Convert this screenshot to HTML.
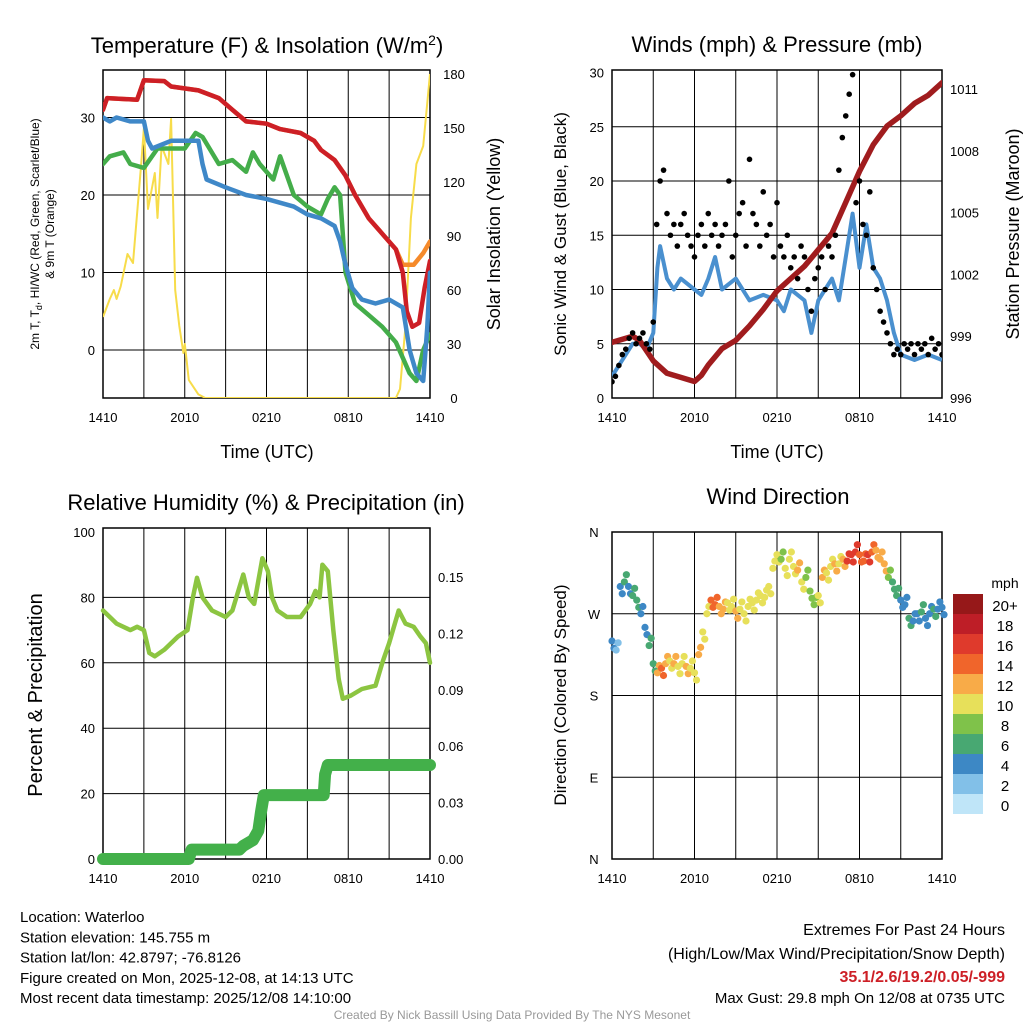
<!DOCTYPE html>
<html><head><meta charset="utf-8">
<style>
html,body{margin:0;padding:0;background:#fff;}
svg{display:block;font-family:"Liberation Sans",sans-serif;}
</style></head>
<body>
<svg id="s" width="1024" height="1024" viewBox="0 0 1024 1024"></svg>
<script>
// ---- Data ----
const xTickLabels=["1410","2010","0210","0810","1410"];
const tempT=[0,0.3,2.5,3.0,4.5,5,7,8.5,9.5,10.5,12,13,14.5,15.5,16,17,17.8,18.5,19.5,20.5,21.5,22,22.3,22.7,23.2,23.6,24];
const tempV=[31,32.5,32.3,34.8,34.7,34,33.5,32.5,31,29.5,29.2,28.5,28,27,25.8,24.5,22.5,20,17,15,13,10,5,3,3.5,8,11.5];
const t9T=[0,0.3,2.5,3.0,4.5,5,7,8.5,9.5,10.5,12,13,14.5,15.5,16,17,17.8,18.5,19.5,20.5,21.5,22,22.8,23.5,24];
const t9V=[31,32.5,32.3,34.8,34.7,34,33.5,32.5,31,29.5,29.2,28.5,28,27,25.8,24.5,22.5,20,17,15,13,11,11,12.5,14];
const wcT=[0,0.5,1,2,3,3.3,3.6,5,7,7.3,7.6,9,10.5,12,14,15,16,17,17.4,17.8,18.3,19,20,21,22,22.5,23,23.5,23.8,24];
const wcV=[30,29.5,30,29.5,29.5,27,26,27,27,24,22,21,20,19.5,18.5,17.5,17,16,14,11,8,6.5,6,6.5,5.5,0,-3,-4,3,10];
const tdT=[0,0.5,1.5,2,3,4,6,6.8,7.3,8.5,9.5,10.5,11,11.5,12.5,13,14,15,16,16.5,17,17.4,17.8,18.5,19.5,20.5,21.5,22,22.5,23,23.5,24];
const tdV=[24,25,25.5,24,23.5,26,26,28,27.5,24,24.5,23,25.5,24,22,25,20,18.5,17.5,19.5,21,20,10,6,4.5,3,1,-1,-3,-4,0,2];
const solT=[0,0.5,0.8,1,1.3,1.8,2.2,2.8,3,3.3,3.8,4,4.3,4.8,5,5.3,5.6,5.9,6,6.3,7,7.5,21.5,21.8,22.2,22.6,23,23.5,24];
const solV=[45,55,60,55,62,80,75,130,150,105,125,100,140,130,155,60,40,25,30,10,2,0,0,5,40,100,130,140,180];
const presT=[0,1.5,2,3,4,5,6,6.5,7,8,9,10,11,12,13,14,15,16,17,18,19,20,21,22,23,24];
const presV=[998.7,999,998.8,997.8,997.2,997,996.8,997.1,997.6,998.4,998.8,999.5,1000.3,1001.2,1001.8,1002.4,1003.2,1004,1005.5,1007,1008.3,1009.2,1009.7,1010.3,1010.7,1011.3];
const windT=[0,0.5,1,1.5,2,2.5,3,3.3,3.5,4,4.5,5,6,6.5,7,7.5,8,9,10,11,12,12.5,13,14,14.5,15,15.5,16,16.5,17,17.5,18,18.5,19,19.5,20,20.5,21,22,23,24];
const windV=[2,3,4,5,5,4.5,6,12,14,11,10,11,10,9.5,11,13,10,11,9,9.5,9,8,10,9,6,9,10,11,9,13,17,12,16,12,11,9,6,4,3.5,4,3.5];
const gustV=[1.5,2,3,4,4.5,5.5,6,5,5.5,6,5,4.5,7,16,20,21,17,15,16,14,16,17,15,14,13,15,16,14,17,15,16,14,15,16,20,13,15,17,18,14,22,17,16,14,19,15,16,13,18,14,13,15,12,13,11,14,13,10,8,11,12,13,10,14,13,15,21,24,26,28,29.8,18,20,16,15,19,12,10,8,7,6,5,4,4.5,4,5,4.5,5,4,5,4.5,5,4,5.5,4.5,5,4];
const rhT=[0,0.5,1,2,2.5,3,3.4,3.8,4.5,5.5,6.2,6.6,6.9,7.3,8,9,9.5,10.3,10.7,11.1,11.7,12.1,12.4,12.8,13.5,14.5,15.2,15.6,15.9,16.1,16.5,16.9,17.3,17.6,18.2,19,20,20.5,21,21.7,22.2,22.8,23.3,23.7,24];
const rhV=[76,74,72,70,71,70,63,62,64,68,70,80,86,80,76,74,76,87,80,78,92,88,80,76,74,74,78,82,80,90,88,70,55,49,50,52,53,60,66,76,72,71,68,66,60];
const prT=[0,6.3,6.5,10,10.3,11,11.4,11.6,11.8,16.2,16.3,16.5,24];
const prV=[0,0,0.005,0.005,0.007,0.01,0.015,0.025,0.034,0.034,0.045,0.05,0.05];
const dirV=[240,230,300,305,300,290,285,270,255,235,215,205,210,215,218,215,212,215,212,210,205,225,250,270,285,280,278,275,282,278,273,275,270,278,282,285,290,288,300,320,335,330,320,330,322,318,305,310,295,280,290,310,315,322,325,325,330,328,335,338,335,328,335,338,340,330,325,310,305,290,285,280,265,262,270,272,265,270,275,275,277];
const speedLabels=["20+","18","16","14","12","10","8","6","4","2","0"];
const speedColors=["#961819","#be1e27","#df3a2c","#f0652b","#f8ab48","#e7e05a","#7fc24a","#48a872","#3d88c5","#82c0e8","#bfe5f8"];

// ---- helpers ----
const NS="http://www.w3.org/2000/svg";
const svg=document.getElementById('s');
function el(tag,attrs,parent){const e=document.createElementNS(NS,tag);for(const k in attrs)e.setAttribute(k,attrs[k]);(parent||svg).appendChild(e);return e;}
function txt(x,y,s,size,anchor,rot,parent,fill,weight){const t=el('text',{x:x,y:y,'font-size':size,'text-anchor':anchor||'middle',fill:fill||'#000'},parent);if(weight)t.setAttribute('font-weight',weight);if(rot)t.setAttribute('transform','rotate(-90 '+x+' '+y+')');t.textContent=s;return t;}
function interp(ts,vs,h){if(h<=ts[0])return vs[0];for(let i=1;i<ts.length;i++){if(h<=ts[i]){const f=(h-ts[i-1])/(ts[i]-ts[i-1]);return vs[i-1]+f*(vs[i]-vs[i-1]);}}return vs[vs.length-1];}
function pathD(ts,vs,xf,yf){return ts.map((t,i)=>(i?'L':'M')+xf(t).toFixed(1)+' '+yf(vs[i]).toFixed(1)).join(' ');}
function frame(x0,x1,y0,y1,g){
  el('rect',{x:x0,y:y0,width:x1-x0,height:y1-y0,fill:'none',stroke:'#000','stroke-width':1.5},g);
  for(let i=0;i<=8;i++){const x=x0+(x1-x0)*i/8;el('line',{x1:x,x2:x,y1:y0,y2:y1,stroke:'#000','stroke-width':1},g);}
  xTickLabels.forEach((l,i)=>{txt(x0+(x1-x0)*i/4,y1+24,l,13,'middle',false,g);});
}

// ===== Panel 1 =====
{
const g=el('g',{});  
const x0=103,x1=430,y0=70,y1=398;
const X=h=>x0+h*(x1-x0)/24, Y=v=>350-v*7.75, Y2=v=>398-v*1.8;
[0,10,20,30].forEach(v=>{el('line',{x1:x0,x2:x1,y1:Y(v),y2:Y(v),stroke:'#000','stroke-width':1},g);txt(x0-8,Y(v)+5,String(v),13,'end',false,g);});
[0,30,60,90,120,150,180].forEach(v=>{txt(x1+24,Y2(v)+5,String(v),13,'middle',false,g);});
frame(x0,x1,y0,y1,g);
const clip=el('clipPath',{id:'c1'});el('rect',{x:x0,y:y0,width:x1-x0,height:y1-y0},clip);
const pg=el('g',{'clip-path':'url(#c1)'},g);
const sol=el('path',{d:pathD(solT,solV,X,Y2),fill:'none',stroke:'#f7dc4a','stroke-width':2,'stroke-linejoin':'round'},pg);

const ora=el('path',{d:pathD(t9T,t9V,X,Y),fill:'none',stroke:'#f58a2b','stroke-width':4.5,'stroke-linejoin':'round','stroke-linecap':'round'},pg);

const red=el('path',{d:pathD(tempT,tempV,X,Y),fill:'none',stroke:'#cd1f26','stroke-width':4.5,'stroke-linejoin':'round','stroke-linecap':'round'},pg);

const grn=el('path',{d:pathD(tdT,tdV,X,Y),fill:'none',stroke:'#44ad4a','stroke-width':4.5,'stroke-linejoin':'round','stroke-linecap':'round'},pg);

const blu=el('path',{d:pathD(wcT,wcV,X,Y),fill:'none',stroke:'#3f88c8','stroke-width':4.5,'stroke-linejoin':'round','stroke-linecap':'round'},pg);

const t=el('text',{x:267,y:53,'font-size':22,'text-anchor':'middle'},g);t.innerHTML='Temperature (F) &amp; Insolation (W/m<tspan dy="-8" font-size="14">2</tspan><tspan dy="8">)</tspan>';

const yl=el('text',{x:39,y:234,'font-size':12,'text-anchor':'middle',transform:'rotate(-90 39 234)'},g);yl.innerHTML='2m T, T<tspan dy="3" font-size="9">d</tspan><tspan dy="-3">, HI/WC (Red, Green, Scarlet/Blue)</tspan>';

txt(54,234,'& 9m T (Orange)',12,'middle',true,g);
txt(500,234,'Solar Insolation (Yellow)',18,'middle',true,g);
txt(267,458,'Time (UTC)',18,'middle',false,g);
}
// ===== Panel 2 =====
{
const g=el('g',{});  
const x0=612,x1=942,y0=70,y1=398;
const X=h=>x0+h*(x1-x0)/24, Y=v=>398-v*10.85, Y2=v=>398-(v-996)*20.6;
[0,5,10,15,20,25,30].forEach(v=>{if(v>0&&v<30)el('line',{x1:x0,x2:x1,y1:Y(v),y2:Y(v),stroke:'#000','stroke-width':1},g);txt(x0-8,Y(v)+5,String(v),13,'end',false,g);});
[996,999,1002,1005,1008,1011].forEach(v=>{txt(x1+8,Y2(v)+5,String(v),13,'start',false,g);});
frame(x0,x1,y0,y1,g);
const clip=el('clipPath',{id:'c2'});el('rect',{x:x0,y:y0-2,width:x1-x0,height:y1-y0+2},clip);
const pg=el('g',{'clip-path':'url(#c2)'},g);
const w=el('path',{d:pathD(windT,windV,X,Y),fill:'none',stroke:'#4a90cf','stroke-width':4,'stroke-linejoin':'round'},pg);

const p=el('path',{d:pathD(presT,presV,X,Y2),fill:'none',stroke:'#a01c1e','stroke-width':5.5,'stroke-linejoin':'round','stroke-linecap':'round'},pg);

gustV.forEach((v,i)=>{const c=el('circle',{cx:X(i*24/(gustV.length-1)),cy:Y(v),r:2.8,fill:'#000'},pg);

});
txt(777,52,'Winds (mph) & Pressure (mb)',22,'middle',false,g);
txt(566,234,'Sonic Wind & Gust (Blue, Black)',17,'middle',true,g);
txt(1019,234,'Station Pressure (Maroon)',18,'middle',true,g);
txt(777,458,'Time (UTC)',18,'middle',false,g);
}
// ===== Panel 3 =====
{
const g=el('g',{});  
const x0=103,x1=430,y0=528,y1=859;
const X=h=>x0+h*(x1-x0)/24, Y=v=>859-v*3.27, Y2=v=>859-v*1880;
[0,20,40,60,80,100].forEach(v=>{if(v>0&&v<100)el('line',{x1:x0,x2:x1,y1:Y(v),y2:Y(v),stroke:'#000','stroke-width':1},g);txt(x0-8,Y(v)+5,String(v),13,'end',false,g);});
[0,0.03,0.06,0.09,0.12,0.15].forEach(v=>{txt(x1+8,Y2(v)+5,v.toFixed(2),13,'start',false,g);});
frame(x0,x1,y0,y1,g);
const rh=el('path',{d:pathD(rhT,rhV,X,Y),fill:'none',stroke:'#8cc541','stroke-width':4.5,'stroke-linejoin':'round','stroke-linecap':'round'},g);

const pr=el('path',{d:pathD(prT,prV,X,Y2),fill:'none',stroke:'#43b04a','stroke-width':12,'stroke-linejoin':'round','stroke-linecap':'round'},g);

txt(266,510,'Relative Humidity (%) & Precipitation (in)',22,'middle',false,g);
txt(42,695,'Percent & Precipitation',20,'middle',true,g);
}
// ===== Panel 4 =====
{
const g=el('g',{});  
const x0=612,x1=942,y0=532,y1=859;
const X=h=>x0+h*(x1-x0)/24, Y=d=>859-d*(y1-y0)/360;
[[0,'N'],[90,'E'],[180,'S'],[270,'W'],[360,'N']].forEach(a=>{if(a[0]>0&&a[0]<360)el('line',{x1:x0,x2:x1,y1:Y(a[0]),y2:Y(a[0]),stroke:'#000','stroke-width':1},g);txt(x0-18,Y(a[0])+5,a[1],13,'middle',false,g);});
frame(x0,x1,y0,y1,g);
dirV.forEach((d,i)=>{const h=i*24/(dirV.length-1);const sp=interp(windT,windV,h)+ (i%3===0?1.5:0);
 let k=Math.round(sp/2);if(k>10)k=10;const col=speedColors[10-k];
 const c=el('circle',{cx:X(h),cy:Y(d),r:3.6,fill:col},g);
 
 
 const c2=el('circle',{cx:X(h)+2,cy:Y(d+(i%2?8:-8)),r:3.6,fill:col},g);
 
 });
txt(778,504,'Wind Direction',22,'middle',false,g);
txt(566,695,'Direction (Colored By Speed)',17,'middle',true,g);
txt(1005,588,'mph',14,'middle',false,g);
speedLabels.forEach((l,i)=>{const r=el('rect',{x:953,y:594+i*20,width:30,height:20,fill:speedColors[i]},g);
 
 
 txt(1005,611+i*20,l,15,'middle',false,g);});
}
// ===== footer =====
{
const g=el('g',{});  
['Location: Waterloo','Station elevation: 145.755 m','Station lat/lon: 42.8797; -76.8126','Figure created on Mon, 2025-12-08, at 14:13 UTC','Most recent data timestamp: 2025/12/08 14:10:00'].forEach((s,i)=>txt(20,922+i*20.3,s,15,'start',false,g));
txt(1005,935,'Extremes For Past 24 Hours',16,'end',false,g);
txt(1005,959,'(High/Low/Max Wind/Precipitation/Snow Depth)',16,'end',false,g);
txt(1005,982,'35.1/2.6/19.2/0.05/-999',16,'end',false,g,'#cd1f26','bold');
txt(1005,1003,'Max Gust: 29.8 mph On 12/08 at 0735 UTC',15,'end',false,g);
txt(512,1019,'Created By Nick Bassill Using Data Provided By The NYS Mesonet',12,'middle',false,g,'#999');
}
</script>
</body></html>
